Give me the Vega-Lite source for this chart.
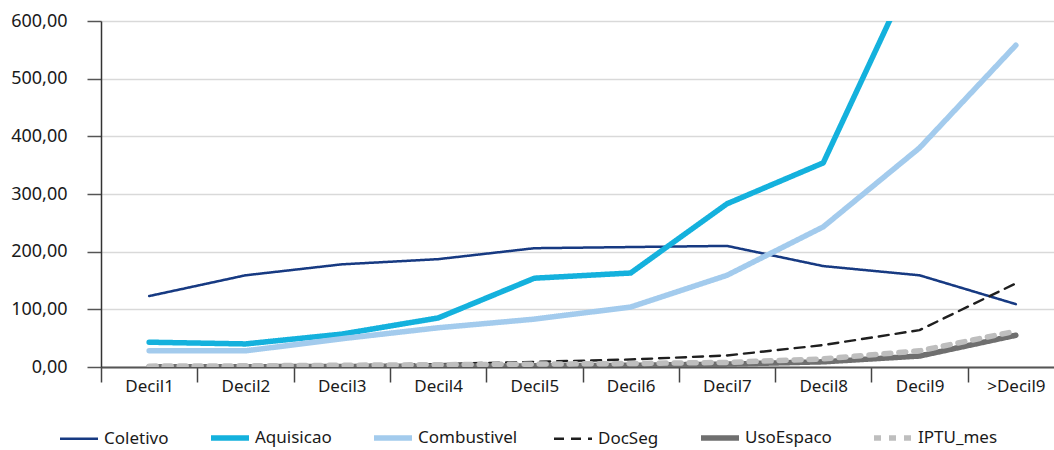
{
  "$schema": "https://vega.github.io/schema/vega-lite/v6.json",
  "autosize": {"type": "none"},
  "width": 953,
  "height": 346,
  "padding": {"left": 101, "top": 21, "right": 0, "bottom": 83},
  "background": "white",
  "config": {
    "view": {"stroke": null},
    "font": "Noto Sans",
    "axis": {"labelFont": "Noto Sans", "labelColor": "#1a1a1a"},
    "legend": {"labelFont": "Noto Sans"}
  },
  "data": {
    "values": [
      {"decil": "Decil1", "serie": "Coletivo", "valor": 123},
      {"decil": "Decil2", "serie": "Coletivo", "valor": 159},
      {"decil": "Decil3", "serie": "Coletivo", "valor": 178},
      {"decil": "Decil4", "serie": "Coletivo", "valor": 187},
      {"decil": "Decil5", "serie": "Coletivo", "valor": 206},
      {"decil": "Decil6", "serie": "Coletivo", "valor": 208},
      {"decil": "Decil7", "serie": "Coletivo", "valor": 210},
      {"decil": "Decil8", "serie": "Coletivo", "valor": 175},
      {"decil": "Decil9", "serie": "Coletivo", "valor": 159},
      {"decil": ">Decil9", "serie": "Coletivo", "valor": 109},
      {"decil": "Decil1", "serie": "Aquisicao", "valor": 43},
      {"decil": "Decil2", "serie": "Aquisicao", "valor": 40},
      {"decil": "Decil3", "serie": "Aquisicao", "valor": 57},
      {"decil": "Decil4", "serie": "Aquisicao", "valor": 85},
      {"decil": "Decil5", "serie": "Aquisicao", "valor": 154},
      {"decil": "Decil6", "serie": "Aquisicao", "valor": 163},
      {"decil": "Decil7", "serie": "Aquisicao", "valor": 283},
      {"decil": "Decil8", "serie": "Aquisicao", "valor": 354},
      {"decil": "Decil9", "serie": "Aquisicao", "valor": 712},
      {"decil": ">Decil9", "serie": "Aquisicao", "valor": 1100},
      {"decil": "Decil1", "serie": "Combustivel", "valor": 28},
      {"decil": "Decil2", "serie": "Combustivel", "valor": 28},
      {"decil": "Decil3", "serie": "Combustivel", "valor": 49},
      {"decil": "Decil4", "serie": "Combustivel", "valor": 68},
      {"decil": "Decil5", "serie": "Combustivel", "valor": 83},
      {"decil": "Decil6", "serie": "Combustivel", "valor": 104},
      {"decil": "Decil7", "serie": "Combustivel", "valor": 159},
      {"decil": "Decil8", "serie": "Combustivel", "valor": 243},
      {"decil": "Decil9", "serie": "Combustivel", "valor": 380},
      {"decil": ">Decil9", "serie": "Combustivel", "valor": 558},
      {"decil": "Decil1", "serie": "DocSeg", "valor": 1},
      {"decil": "Decil2", "serie": "DocSeg", "valor": 2},
      {"decil": "Decil3", "serie": "DocSeg", "valor": 3},
      {"decil": "Decil4", "serie": "DocSeg", "valor": 5},
      {"decil": "Decil5", "serie": "DocSeg", "valor": 9},
      {"decil": "Decil6", "serie": "DocSeg", "valor": 13},
      {"decil": "Decil7", "serie": "DocSeg", "valor": 20},
      {"decil": "Decil8", "serie": "DocSeg", "valor": 38},
      {"decil": "Decil9", "serie": "DocSeg", "valor": 64},
      {"decil": ">Decil9", "serie": "DocSeg", "valor": 145},
      {"decil": "Decil1", "serie": "UsoEspaco", "valor": 0.3},
      {"decil": "Decil2", "serie": "UsoEspaco", "valor": 0.5},
      {"decil": "Decil3", "serie": "UsoEspaco", "valor": 1},
      {"decil": "Decil4", "serie": "UsoEspaco", "valor": 1.5},
      {"decil": "Decil5", "serie": "UsoEspaco", "valor": 2},
      {"decil": "Decil6", "serie": "UsoEspaco", "valor": 3},
      {"decil": "Decil7", "serie": "UsoEspaco", "valor": 5},
      {"decil": "Decil8", "serie": "UsoEspaco", "valor": 9},
      {"decil": "Decil9", "serie": "UsoEspaco", "valor": 19},
      {"decil": ">Decil9", "serie": "UsoEspaco", "valor": 55},
      {"decil": "Decil1", "serie": "IPTU_mes", "valor": 1.5},
      {"decil": "Decil2", "serie": "IPTU_mes", "valor": 2},
      {"decil": "Decil3", "serie": "IPTU_mes", "valor": 3},
      {"decil": "Decil4", "serie": "IPTU_mes", "valor": 4},
      {"decil": "Decil5", "serie": "IPTU_mes", "valor": 5},
      {"decil": "Decil6", "serie": "IPTU_mes", "valor": 6},
      {"decil": "Decil7", "serie": "IPTU_mes", "valor": 8},
      {"decil": "Decil8", "serie": "IPTU_mes", "valor": 14},
      {"decil": "Decil9", "serie": "IPTU_mes", "valor": 28},
      {"decil": ">Decil9", "serie": "IPTU_mes", "valor": 62}
    ]
  },
  "mark": {"type": "line", "clip": true, "strokeCap": "round", "strokeJoin": "round"},
  "encoding": {
    "x": {
      "field": "decil",
      "type": "nominal",
      "sort": ["Decil1", "Decil2", "Decil3", "Decil4", "Decil5", "Decil6", "Decil7", "Decil8", "Decil9", ">Decil9"],
      "bandPosition": 0.5,
      "scale": {"type": "band", "paddingInner": 0, "paddingOuter": 0, "range": [0, 963]},
      "axis": {
        "title": null,
        "labelAngle": 0,
        "labelFontSize": 17,
        "labelPadding": -4,
        "tickBand": "extent",
        "tickSize": 15,
        "tickColor": "#444",
        "tickWidth": 1.5,
        "domainColor": "#555",
        "domainWidth": 2,
        "grid": false
      }
    },
    "y": {
      "field": "valor",
      "type": "quantitative",
      "scale": {"domain": [0, 600], "nice": false},
      "axis": {
        "title": null,
        "values": [0, 100, 200, 300, 400, 500, 600],
        "labelExpr": "replace(format(datum.value, '.2f'), '.', ',')",
        "labelFontSize": 18,
        "labelPadding": 20,
        "tickSize": 14,
        "tickColor": "#555",
        "tickWidth": 1.5,
        "domainColor": "#333",
        "domainWidth": 1.5,
        "gridColor": "#d9d9d9",
        "gridWidth": 1.5
      }
    },
    "color": {
      "field": "serie",
      "type": "nominal",
      "scale": {
        "domain": ["Coletivo", "Aquisicao", "Combustivel", "DocSeg", "UsoEspaco", "IPTU_mes"],
        "range": ["#173a82", "#14b1dd", "#a3cbed", "#1f1f1f", "#6f6f6f", "#bebebe"]
      },
      "legend": {
        "title": null,
        "orient": "none",
        "direction": "horizontal",
        "legendX": -44,
        "legendY": 395,
        "columns": 6,
        "columnPadding": 31,
        "symbolType": "stroke",
        "symbolSize": 1444,
        "symbolOffset": 0,
        "labelOffset": 3,
        "labelFontSize": 17,
        "labelColor": "#1a1a1a"
      }
    },
    "strokeDash": {
      "field": "serie",
      "type": "nominal",
      "scale": {
        "domain": ["Coletivo", "Aquisicao", "Combustivel", "DocSeg", "UsoEspaco", "IPTU_mes"],
        "range": [[1, 0], [1, 0], [1, 0], [10, 7], [1, 0], [7, 8]]
      }
    },
    "strokeWidth": {
      "field": "serie",
      "type": "nominal",
      "scale": {
        "type": "ordinal",
        "domain": ["Coletivo", "Aquisicao", "Combustivel", "DocSeg", "UsoEspaco", "IPTU_mes"],
        "range": [2.5, 5.5, 5.5, 2.4, 5.5, 5.5]
      }
    }
  }
}
